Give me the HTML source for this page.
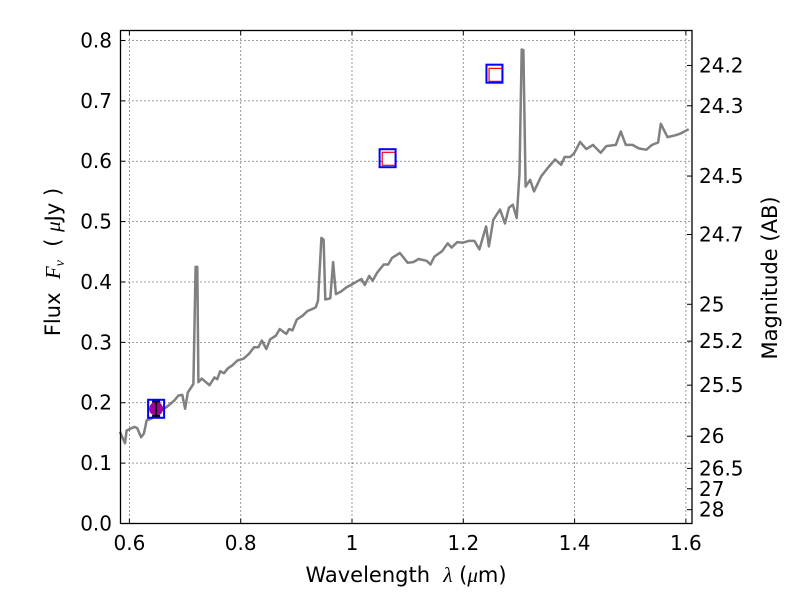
<!DOCTYPE html>
<html><head><meta charset="utf-8"><style>
body{margin:0;background:#fff;}
svg text{font-family:"DejaVu Sans","Liberation Sans",sans-serif;fill:#000;}
</style></head><body>
<svg id="chart" width="800" height="600" xmlns="http://www.w3.org/2000/svg">
<g id="grid"></g>
<polyline id="spec" fill="none" stroke="#808080" stroke-width="2.5" stroke-linejoin="round"></polyline>
<g id="marks"></g>
<rect x="120.5" y="30.5" width="571.5" height="493" fill="none" stroke="#000" stroke-width="1.3"></rect>
<g id="ticks"></g>
<text x="406" y="582" font-size="21" text-anchor="middle">Wavelength&#160;&#160;<tspan font-family="Liberation Serif" font-style="italic">λ</tspan> (<tspan font-family="Liberation Serif" font-style="italic">μ</tspan>m)</text>
<text transform="translate(60,262) rotate(-90)" font-size="21" text-anchor="middle">Flux&#160;&#160;<tspan font-family="Liberation Serif" font-style="italic">F<tspan font-size="14" dy="4">ν</tspan></tspan><tspan dy="-4">&#160;&#160;(&#160;</tspan><tspan font-family="Liberation Serif" font-style="italic">μ</tspan>Jy )</text>
<text transform="translate(777,278) rotate(-90)" font-size="21" text-anchor="middle">Magnitude (AB)</text>
</svg>
<script>
const wavelengths=[0.583,0.592,0.595,0.609,0.614,0.621,0.626,0.631,0.640,0.650,0.667,0.681,0.688,0.695,0.700,0.705,0.715,0.719,0.722,0.724,0.730,0.744,0.753,0.758,0.763,0.770,0.777,0.785,0.794,0.805,0.815,0.824,0.832,0.838,0.846,0.853,0.863,0.870,0.882,0.887,0.893,0.901,0.911,0.920,0.928,0.935,0.939,0.945,0.949,0.952,0.961,0.966,0.971,0.980,0.990,1.000,1.011,1.017,1.023,1.031,1.037,1.045,1.057,1.065,1.072,1.086,1.100,1.110,1.120,1.134,1.141,1.148,1.162,1.172,1.179,1.189,1.199,1.210,1.220,1.229,1.241,1.246,1.254,1.266,1.275,1.282,1.289,1.296,1.301,1.305,1.308,1.312,1.320,1.327,1.340,1.351,1.365,1.376,1.382,1.392,1.399,1.410,1.421,1.433,1.447,1.457,1.474,1.483,1.492,1.504,1.516,1.529,1.539,1.550,1.555,1.567,1.581,1.591,1.605];
const fluxes=[0.152,0.133,0.154,0.160,0.158,0.143,0.149,0.171,0.174,0.185,0.193,0.204,0.212,0.213,0.190,0.217,0.231,0.425,0.425,0.234,0.240,0.229,0.242,0.239,0.252,0.249,0.257,0.262,0.270,0.273,0.281,0.292,0.292,0.303,0.289,0.305,0.311,0.322,0.314,0.322,0.320,0.338,0.344,0.352,0.355,0.358,0.369,0.473,0.470,0.371,0.373,0.433,0.380,0.384,0.391,0.396,0.402,0.405,0.395,0.410,0.402,0.415,0.429,0.429,0.440,0.448,0.432,0.433,0.438,0.435,0.429,0.442,0.451,0.464,0.457,0.466,0.465,0.468,0.468,0.454,0.492,0.459,0.503,0.520,0.497,0.523,0.528,0.506,0.580,0.785,0.784,0.558,0.569,0.550,0.575,0.588,0.603,0.594,0.607,0.607,0.613,0.632,0.620,0.627,0.614,0.625,0.627,0.649,0.627,0.627,0.621,0.619,0.627,0.631,0.662,0.640,0.643,0.646,0.653];
const photLam=[0.648,1.064,1.256];
const photFlux=[0.190,0.605,0.745];
const modelLam=[0.649,1.066,1.258];
const modelFlux=[0.190,0.604,0.743];
const obsLam=[0.648];
const obsFlux=[0.190];
const obsErr=[0.012];
const xTicks=[0.6,0.8,1.0,1.2,1.4,1.6];
const xTickLabels=["0.6","0.8","1","1.2","1.4","1.6"];
const yTicks=[0,0.1,0.2,0.3,0.4,0.5,0.6,0.7,0.8];
const yTickLabels=["0.0","0.1","0.2","0.3","0.4","0.5","0.6","0.7","0.8"];
const magTicks=[24.2,24.3,24.5,24.7,25,25.2,25.5,26,26.5,27,28];
const magTickLabels=["24.2","24.3","24.5","24.7","25","25.2","25.5","26","26.5","27","28"];

const X0=120.5,X1=692,XMIN=0.584,XMAX=1.611;
const Y0=523.5,Y1=30.5,YMIN=0,YMAX=0.8165;
const sx=v=>X0+(v-XMIN)/(XMAX-XMIN)*(X1-X0);
const sy=v=>Y0-(v-YMIN)/(YMAX-YMIN)*(Y0-Y1);
const NS="http://www.w3.org/2000/svg";
function mk(tag,attrs,parent){const e=document.createElementNS(NS,tag);for(const k in attrs)e.setAttribute(k,attrs[k]);parent.appendChild(e);return e;}
const grid=document.getElementById('grid'),ticks=document.getElementById('ticks'),marks=document.getElementById('marks');
xTicks.forEach((t,i)=>{const x=sx(t);
 const g=mk('line',{x1:x,x2:x,y1:Y1,y2:Y0,stroke:'#000','stroke-width':0.8,'stroke-dasharray':'1,3'},grid);
 
 
 const a=mk('line',{x1:x,x2:x,y1:Y0,y2:Y0-5,stroke:'#000'},ticks);
 
 
 const b=mk('line',{x1:x,x2:x,y1:Y1,y2:Y1+5,stroke:'#000'},ticks);
 
 
 const tx=mk('text',{x:x,y:550,'font-size':20,'text-anchor':'middle'},ticks);tx.textContent=xTickLabels[i];
 
 
});
yTicks.forEach((t,i)=>{const y=sy(t);
 if(t>0){const g=mk('line',{x1:X0,x2:X1,y1:y,y2:y,stroke:'#000','stroke-width':0.8,'stroke-dasharray':'1,3'},grid);
 
 }
 const a=mk('line',{x1:X0,x2:X0+5,y1:y,y2:y,stroke:'#000'},ticks);
 
 
 const tx=mk('text',{x:112,y:y+7,'font-size':20,'text-anchor':'end'},ticks);tx.textContent=yTickLabels[i];
 
 
});
magTicks.forEach((m,i)=>{const f=Math.pow(10,(23.9-m)/2.5);const y=sy(f);
 const a=mk('line',{x1:X1,x2:X1-5,y1:y,y2:y,stroke:'#000'},ticks);
 
 
 const tx=mk('text',{x:699,y:y+7,'font-size':20,'text-anchor':'start'},ticks);tx.textContent=magTickLabels[i];
 
 
});
document.getElementById('spec').setAttribute('points',wavelengths.map((w,i)=>sx(w).toFixed(1)+','+sy(fluxes[i]).toFixed(1)).join(' '));
obsLam.forEach((l,i)=>{const x=sx(l);
 const c=mk('circle',{cx:x,cy:sy(obsFlux[i]),r:7,fill:'#a000a0'},marks);
 
 
 const e=mk('path',{d:`M${x},${sy(obsFlux[i]+obsErr[i])}V${sy(obsFlux[i]-obsErr[i])}M${x-4},${sy(obsFlux[i]+obsErr[i])}h8M${x-4},${sy(obsFlux[i]-obsErr[i])}h8`,stroke:'#000','stroke-width':2,fill:'none'},marks);
 
 
});
modelLam.forEach((l,i)=>{if(i===0)return;
 const r=mk('rect',{x:sx(l)-6.5,y:sy(modelFlux[i])-6.5,width:13,height:13,fill:'#fff',stroke:'#ff0000','stroke-width':1.2},marks);
 
 
});
photLam.forEach((l,i)=>{
 const r=mk('rect',{x:sx(l)-8,y:sy(photFlux[i])-9,width:16,height:18,fill:'none',stroke:'#0000ff','stroke-width':2},marks);
 
 
});
</script>
</body></html>
